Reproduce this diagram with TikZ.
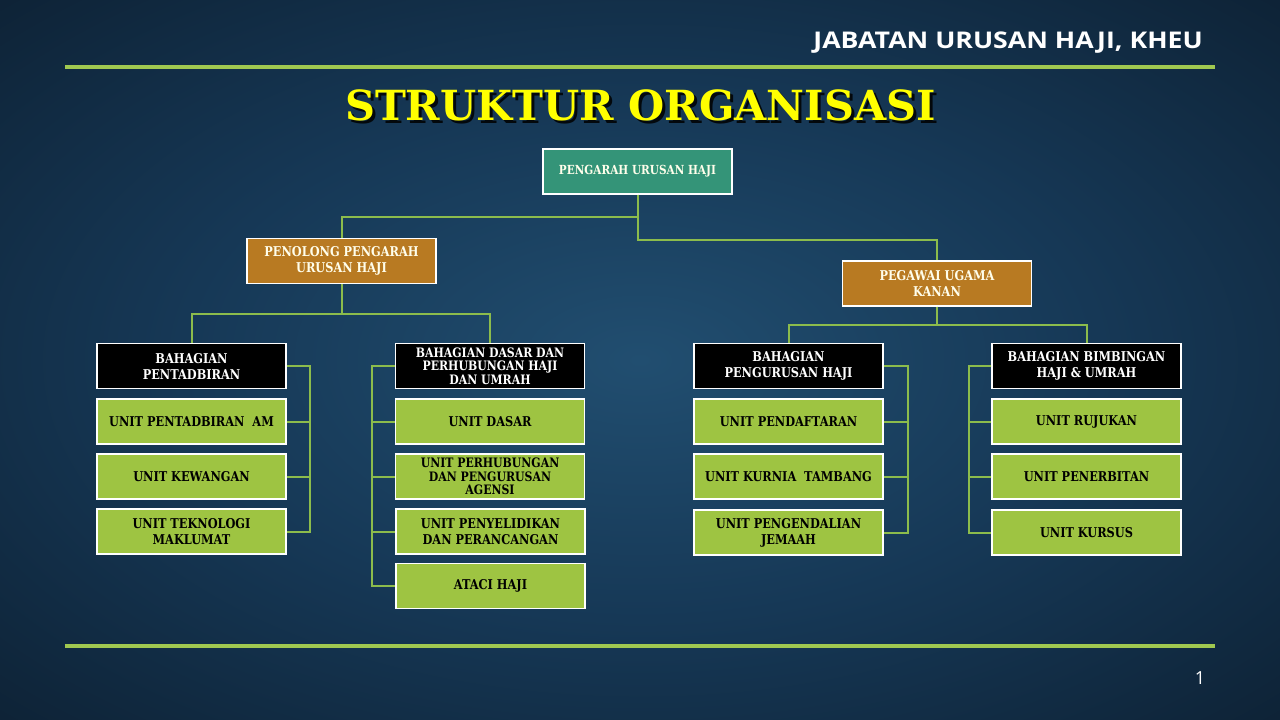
\documentclass[tikz,border=0pt]{standalone}
\usepackage{fontspec}
\newfontfamily\boxfont{DejaVu Serif}[FakeStretch=0.84]
\newfontfamily\titlefont{DejaVu Serif}
\newfontfamily\headfont{Open Sans}[FakeStretch=1.16]
\newfontfamily\pgnumfont{Open Sans}
\definecolor{bgin}{RGB}{33,78,112}
\definecolor{bgmid}{RGB}{22,56,86}
\definecolor{bgout}{RGB}{7,17,28}
\definecolor{rulegreen}{RGB}{160,200,80}
\definecolor{linegreen}{RGB}{140,188,76}
\definecolor{teal}{RGB}{52,148,120}
\definecolor{brown}{RGB}{184,122,34}
\definecolor{unitgreen}{RGB}{158,196,66}
\definecolor{titleyellow}{RGB}{255,255,0}
\pgfdeclareradialshading{bgshade}{\pgfpoint{0bp}{0bp}}{color(0bp)=(bgin); color(18bp)=(bgmid); color(50bp)=(bgout); color(60bp)=(bgout)}
\tikzset{
  box/.style={draw=white, line width=1.2pt, minimum width=189pt, minimum height=45pt,
    inner sep=1pt, align=center, font=\boxfont\bfseries\fontsize{13.5}{16}\selectfont},
  topbox/.style={box, fill=teal, text=white!92!yellow},
  midbox/.style={box, fill=brown, text=white!92!yellow},
  bahbox/.style={box, fill=black, text=white},
  unitbox/.style={box, fill=unitgreen, text=black},
  tight/.style={font=\boxfont\bfseries\fontsize{13}{13.5}\selectfont},
  conn/.style={draw=linegreen, line width=2pt},
  rulestyle/.style={draw=rulegreen, line width=4pt},
  titlestyle/.style={font=\titlefont\bfseries\fontsize{41.5}{46}\selectfont, inner sep=0, anchor=base}
}
\begin{document}
\begin{tikzpicture}[x=1pt,y=-1pt]
\useasboundingbox (0,0) rectangle (1280,720);
\shade[shading=bgshade] (0,0) rectangle (1280,720);
% rules
\coordinate (r1a) at (65,67); \coordinate (r1b) at (1215,67);
\coordinate (r2a) at (65,646); \coordinate (r2b) at (1215,646);
\draw[rulestyle] (r1a) -- (r1b);
\draw[rulestyle] (r2a) -- (r2b);
% header
\node[anchor=base east, text=white, font=\headfont\bfseries\fontsize{23}{26}\selectfont, inner sep=0] (hdr) at (1203,48) {JABATAN URUSAN HAJI, KHEU};
% title with shadow
\node[titlestyle, text=black, opacity=0.85] (tshadow) at (643.5,123) {STRUKTUR ORGANISASI};
\node[titlestyle, text=titleyellow] (title) at (640.5,120) {STRUKTUR ORGANISASI};
% page number
\node[text=white, font=\pgnumfont\fontsize{18}{20}\selectfont, inner sep=0] (pg) at (1200,678) {1};
% top level
\node[topbox, font=\boxfont\bfseries\fontsize{12.5}{15}\selectfont] (top) at (637.5,171.5) {PENGARAH URUSAN HAJI};
\node[midbox] (pen) at (341.5,261) {PENOLONG PENGARAH\\URUSAN HAJI};
\node[midbox] (peg) at (937,283.5) {PEGAWAI UGAMA\\KANAN};
% bahagian
\node[bahbox] (b1) at (191.5,366) {BAHAGIAN\\PENTADBIRAN};
\node[bahbox, tight] (b2) at (490,366) {BAHAGIAN DASAR DAN\\PERHUBUNGAN HAJI\\DAN UMRAH};
\node[bahbox] (b3) at (788.5,366) {BAHAGIAN\\PENGURUSAN HAJI};
\node[bahbox] (b4) at (1086.5,366) {BAHAGIAN BIMBINGAN\\HAJI \& UMRAH};
% units col 1
\node[unitbox] (u11) at (191.5,421.5) {UNIT PENTADBIRAN~ AM};
\node[unitbox] (u12) at (191.5,476.5) {UNIT KEWANGAN};
\node[unitbox] (u13) at (191.5,531.5) {UNIT TEKNOLOGI\\MAKLUMAT};
% units col 2
\node[unitbox] (u21) at (490,421.5) {UNIT DASAR};
\node[unitbox, tight] (u22) at (490,476.5) {UNIT PERHUBUNGAN\\DAN PENGURUSAN\\AGENSI};
\node[unitbox] (u23) at (490.5,531.5) {UNIT PENYELIDIKAN\\DAN PERANCANGAN};
\node[unitbox] (u24) at (490.5,586) {ATACI HAJI};
% units col 3
\node[unitbox] (u31) at (788.5,421.5) {UNIT PENDAFTARAN};
\node[unitbox] (u32) at (788.5,476.5) {UNIT KURNIA~ TAMBANG};
\node[unitbox] (u33) at (788.5,532.5) {UNIT PENGENDALIAN\\JEMAAH};
% units col 4
\node[unitbox] (u41) at (1086.5,421.5) {UNIT RUJUKAN};
\node[unitbox] (u42) at (1086.5,476.5) {UNIT PENERBITAN};
\node[unitbox] (u43) at (1086.5,532.5) {UNIT KURSUS};
% tree connectors
\draw[conn] (top.south) -- ++(0,22) -| (pen.north);
\draw[conn] (top.south) -- ++(0,45) -| (peg.north);
\draw[conn] (pen.south) -- ++(0,30) -| (b1.north);
\draw[conn] (pen.south) -- ++(0,30) -| (b2.north);
\draw[conn] (peg.south) -- ++(0,18) -| (b3.north);
\draw[conn] (peg.south) -- ++(0,18) -| (b4.north);
% bracket coordinates
\coordinate (k1) at (310,0);
\coordinate (k2) at (372,0);
\coordinate (k3) at (908,0);
\coordinate (k4) at (969,0);
% col 1 bracket (right side)
\draw[conn] (b1.east) -- (b1.east -| k1) -- (u13.east -| k1) -- (u13.east);
\draw[conn] (u11.east) -- (u11.east -| k1);
\draw[conn] (u12.east) -- (u12.east -| k1);
% col 2 bracket (left side)
\draw[conn] (b2.west) -- (b2.west -| k2) -- (u24.west -| k2) -- (u24.west);
\draw[conn] (u21.west) -- (u21.west -| k2);
\draw[conn] (u22.west) -- (u22.west -| k2);
\draw[conn] (u23.west) -- (u23.west -| k2);
% col 3 bracket (right side)
\draw[conn] (b3.east) -- (b3.east -| k3) -- (u33.east -| k3) -- (u33.east);
\draw[conn] (u31.east) -- (u31.east -| k3);
\draw[conn] (u32.east) -- (u32.east -| k3);
% col 4 bracket (left side)
\draw[conn] (b4.west) -- (b4.west -| k4) -- (u43.west -| k4) -- (u43.west);
\draw[conn] (u41.west) -- (u41.west -| k4);
\draw[conn] (u42.west) -- (u42.west -| k4);
\end{tikzpicture}
\end{document}
